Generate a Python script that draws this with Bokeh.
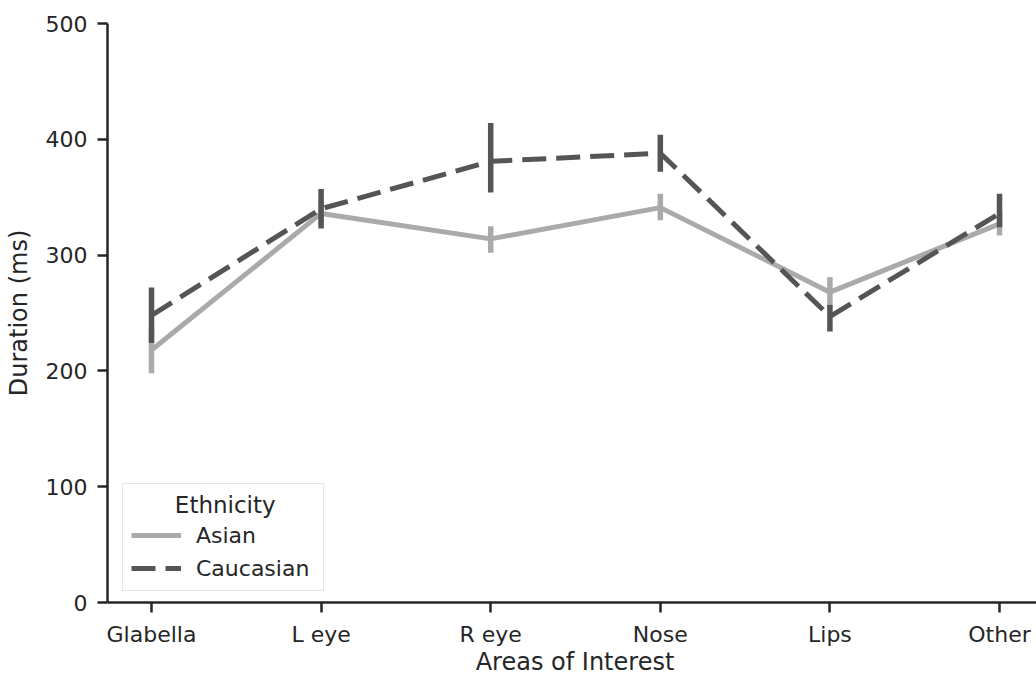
import numpy as np
from bokeh.plotting import figure
from bokeh.layouts import column
from bokeh.models import Range1d, FixedTicker, Legend, LegendItem, ColumnDataSource, Div
from bokeh.embed import file_html
from bokeh.resources import INLINE

# Mean fixation duration per area of interest, with 95% CI bounds
areas = ["Glabella", "L eye", "R eye", "Nose", "Lips", "Other"]
asian_mean = [218, 336, 314, 341, 268, 327]
asian_lo = [198, 326, 302, 330, 255, 317]
asian_hi = [238, 347, 325, 353, 281, 338]
cauc_mean = [248, 340, 381, 388, 247, 336]
cauc_lo = [224, 323, 354, 372, 234, 324]
cauc_hi = [272, 357, 414, 404, 257, 353]
y_ticks = [0, 100, 200, 300, 400, 500]

FONT = "DejaVu Sans"
TEXT = "#262626"
ASIAN_C = "#aaaaaa"
CAUC_C = "#555555"

x = list(range(len(areas)))

p = figure(width=1036, height=649, output_backend="svg", toolbar_location=None,
           x_range=Range1d(-0.2594, 5.218), y_range=Range1d(0, 500),
           min_border_left=107, min_border_right=0, min_border_top=23,
           min_border_bottom=46)
p.outline_line_color = None
p.grid.visible = False
p.background_fill_color = "white"
p.border_fill_color = "white"

src_a = ColumnDataSource(dict(x=x, m=asian_mean, lo=asian_lo, hi=asian_hi))
src_c = ColumnDataSource(dict(x=x, m=cauc_mean, lo=cauc_lo, hi=cauc_hi))

# Asian series: error bars, then the connecting line
p.segment(x0="x", y0="lo", x1="x", y1="hi", source=src_a,
          line_color=ASIAN_C, line_width=5.5)
la = p.line("x", "m", source=src_a, line_color=ASIAN_C, line_width=5)

# Caucasian series drawn on top
p.segment(x0="x", y0="lo", x1="x", y1="hi", source=src_c,
          line_color=CAUC_C, line_width=5.5)
lc = p.line("x", "m", source=src_c, line_color=CAUC_C, line_width=5,
            line_dash="24 10")

for ax in (p.xaxis[0], p.yaxis[0]):
    ax.axis_line_color = TEXT
    ax.axis_line_width = 2.5
    ax.major_tick_line_color = TEXT
    ax.major_tick_line_width = 2.5
    ax.major_tick_out = 10
    ax.major_tick_in = 0
    ax.minor_tick_line_color = None
    ax.major_label_text_font = FONT
    ax.major_label_text_font_size = "22px"
    ax.major_label_text_color = TEXT
    ax.axis_label_text_font = FONT
    ax.axis_label_text_font_size = "24px"
    ax.axis_label_text_font_style = "normal"
    ax.axis_label_text_color = TEXT

p.xaxis.ticker = FixedTicker(ticks=x)
p.xaxis.major_label_overrides = {i: a for i, a in enumerate(areas)}
p.xaxis.major_label_standoff = 9

p.yaxis.ticker = FixedTicker(ticks=y_ticks)
p.yaxis.axis_label = "Duration (ms)"
p.yaxis.major_label_standoff = 10
p.yaxis.axis_label_standoff = 10

legend = Legend(items=[LegendItem(label="Asian", renderers=[la]),
                       LegendItem(label="Caucasian", renderers=[lc])],
                location=(15, 11), title="\u00a0" * 6 + "Ethnicity")
legend.title_text_font = FONT
legend.title_text_font_size = "23px"
legend.title_text_color = TEXT
legend.title_text_font_style = "normal"
legend.title_standoff = 3
legend.label_text_font = FONT
legend.label_text_font_size = "22px"
legend.label_text_color = TEXT
legend.label_width = 119
legend.glyph_width = 50
legend.glyph_height = 28
legend.label_height = 28
legend.label_standoff = 15
legend.spacing = 5
legend.padding = 8
legend.margin = 0
legend.border_line_color = "#cccccc"
legend.border_line_width = 1.5
legend.background_fill_color = "white"
legend.background_fill_alpha = 0.8
p.add_layout(legend)

# x-axis title, centred under the axes
xlabel = Div(
    text='<div style="position:absolute; left:575px; top:-4px; '
         'transform:translateX(-50%); white-space:nowrap; '
         'font-family:\'DejaVu Sans\'; font-size:24px; color:#262626;">'
         'Areas of Interest</div>',
    width=1036, height=26, margin=0,
    styles={"position": "relative", "overflow": "visible"})

layout = column(p, xlabel, spacing=0)
open("out.html", "w").write(file_html(layout, INLINE))
